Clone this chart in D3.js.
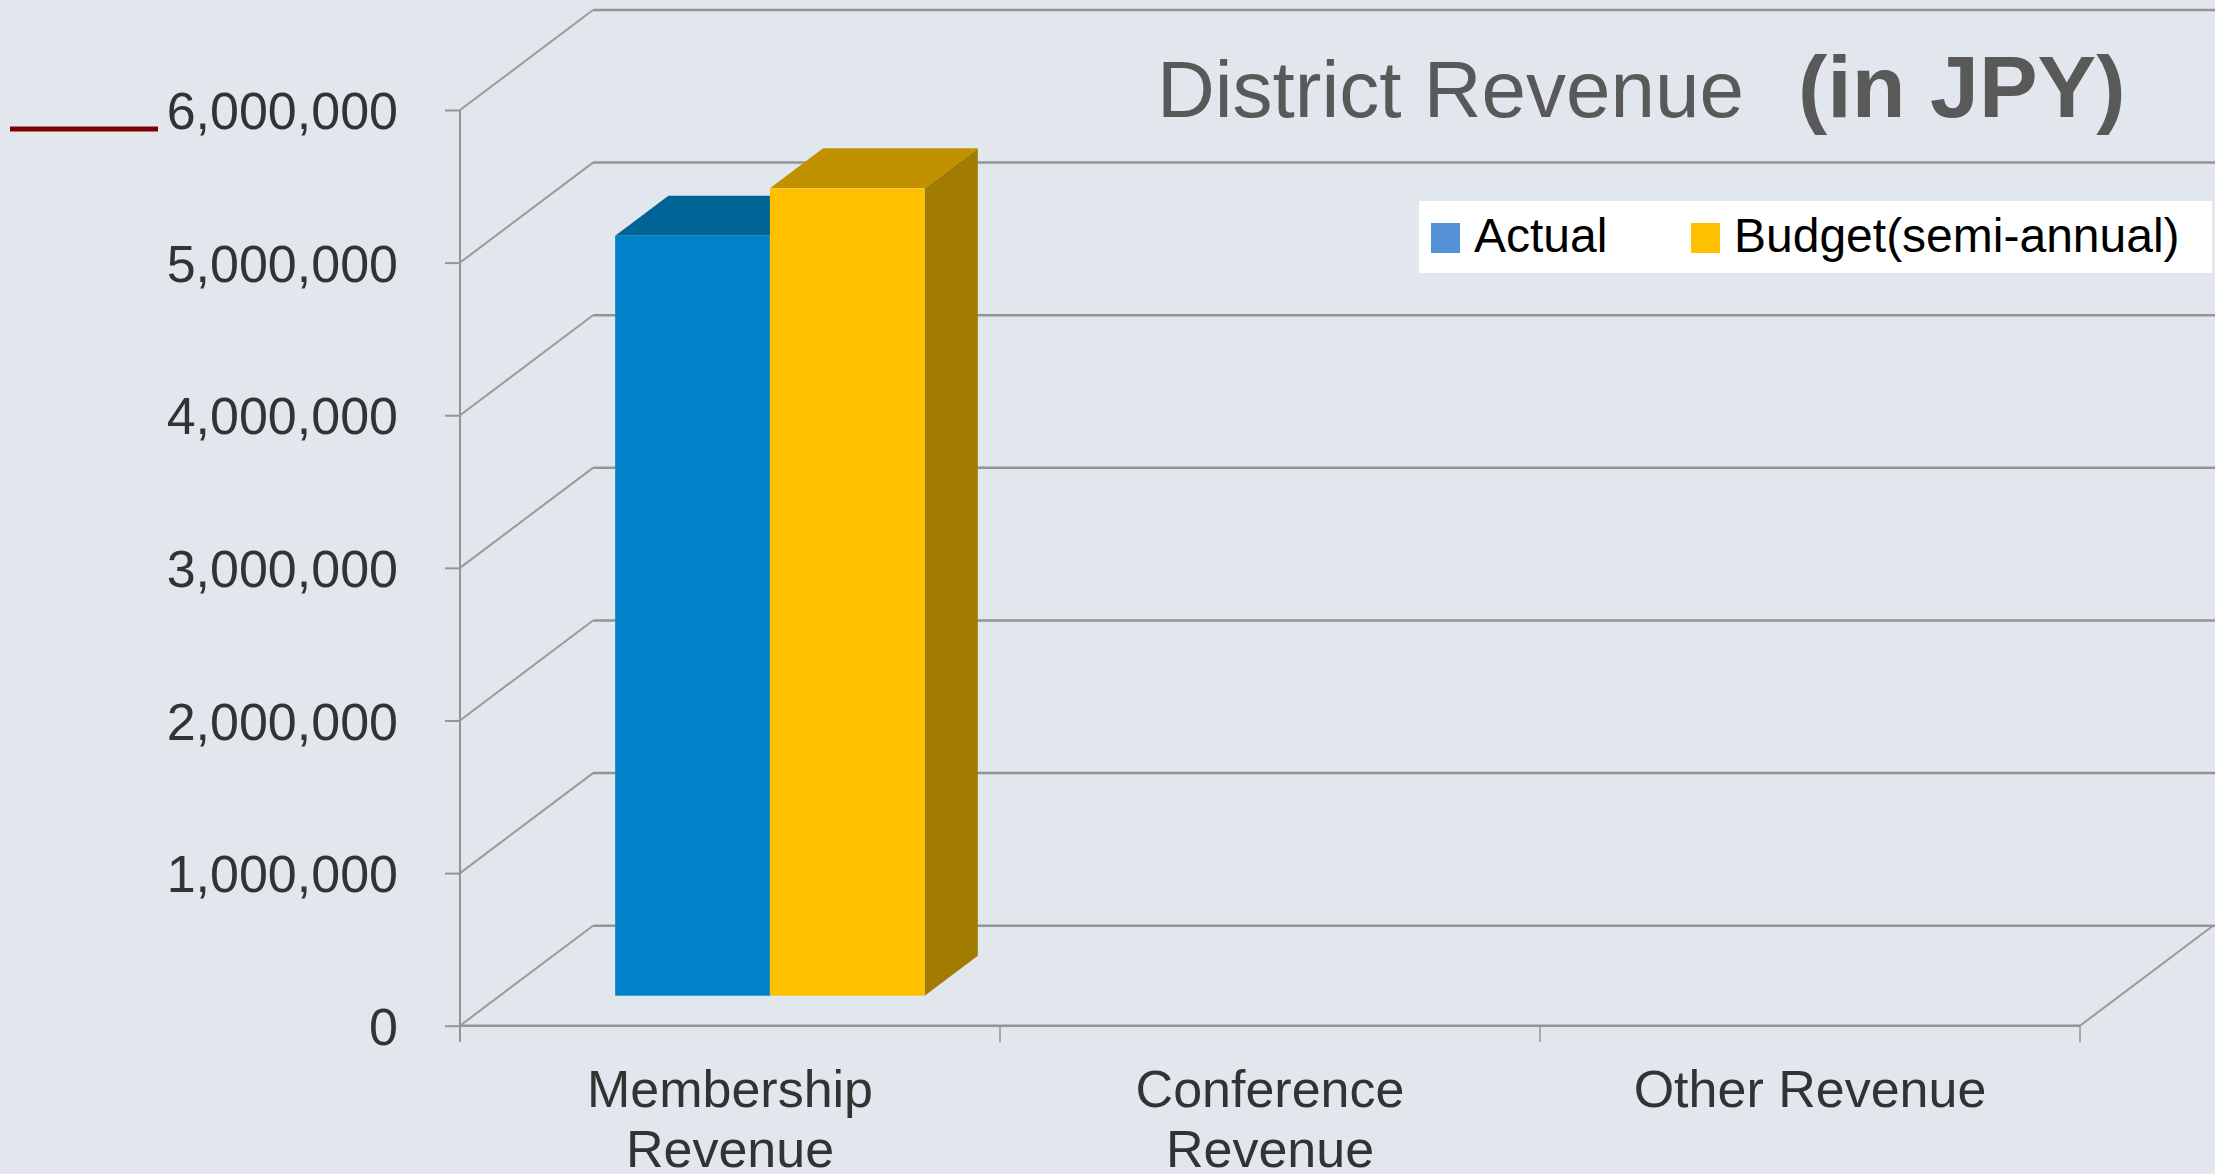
<!DOCTYPE html>
<html>
<head>
<meta charset="utf-8">
<script src="https://cdn.jsdelivr.net/npm/d3@7"></script>
<style>
	body { margin: 0; background: #e2e7ee; }
	#chart { width: 2215px; height: 1174px; }
</style>
</head>
<body>
<div id="chart"></div>
<script>
var width = 2215;
var height = 1174;

// chart data
var categories = ["Membership Revenue", "Conference Revenue", "Other Revenue"];
var seriesNames = ["Actual", "Budget(semi-annual)"];
var actual = [4980000, 0, 0];
var budget = [5290000, 0, 0];
var yTicks = [0, 1000000, 2000000, 3000000, 4000000, 5000000, 6000000];

// depth of the 3d box (full wall depth)
var depthX = 133;
var depthY = -100;

window.onload = start;

function start() {
	var chart = d3.select("#chart")
		.append("svg")
		.attr("width", width)
		.attr("height", height);

	chart.append("rect")
		.attr("width", width)
		.attr("height", height)
		.attr("fill", "#e2e7ee");

	var xScale = d3.scaleBand().domain(categories).range([460, 2080]);
	var inner = d3.scaleBand().domain(seriesNames).range([0, xScale.bandwidth()]).paddingOuter(0.745).paddingInner(0);
	var yScale = d3.scaleLinear().domain([0, 6000000]).range([1025.7, 110]);

	// point on the box, z = depth fraction 0..1
	function px(x, z) { return x + z * depthX; }
	function py(v, z) { return yScale(v) + z * depthY; }

	var grid = chart.append("g").attr("class", "grid");

	// back wall lines
	grid.selectAll("line.back")
		.data(yTicks)
		.enter()
		.append("line")
		.attr("class", "back")
		.attr("x1", px(460, 1))
		.attr("x2", width)
		.attr("y1", function(d) { return py(d, 1); })
		.attr("y2", function(d) { return py(d, 1); })
		.attr("stroke", "#959595")
		.attr("stroke-width", 2.5);

	// side wall diagonals
	grid.selectAll("line.side")
		.data(yTicks)
		.enter()
		.append("line")
		.attr("class", "side")
		.attr("x1", 460)
		.attr("x2", px(460, 1))
		.attr("y1", function(d) { return py(d, 0); })
		.attr("y2", function(d) { return py(d, 1); })
		.attr("stroke", "#9a9a9a")
		.attr("stroke-width", 2);

	// floor right edge
	grid.append("line")
		.attr("x1", 2080)
		.attr("x2", px(2080, 1))
		.attr("y1", py(0, 0))
		.attr("y2", py(0, 1))
		.attr("stroke", "#9a9a9a")
		.attr("stroke-width", 2);

	// y axis
	var yAxis = d3.axisLeft(yScale)
		.tickValues(yTicks)
		.tickSize(15)
		.tickPadding(47)
		.tickFormat(d3.format(","));

	var yG = chart.append("g")
		.attr("transform", "translate(460,0)")
		.call(yAxis);
	yG.select(".domain").remove();
	yG.selectAll(".tick line").attr("stroke", "#959595").attr("stroke-width", 2);
	yG.selectAll(".tick text")
		.attr("fill", "#333333")
		.attr("dy", "0.36em")
		.style("font-family", "'Liberation Sans', Arial, sans-serif")
		.style("font-size", "52px");

	chart.append("line")
		.attr("x1", 460).attr("x2", 460)
		.attr("y1", yScale(6000000)).attr("y2", 1042)
		.attr("stroke", "#959595").attr("stroke-width", 2);

	// x axis (floor front edge) and category ticks
	chart.append("line")
		.attr("x1", 460).attr("x2", 2080)
		.attr("y1", yScale(0)).attr("y2", yScale(0))
		.attr("stroke", "#959595").attr("stroke-width", 2.5);

	var bounds = categories.map(function(c) { return xScale(c); }).concat([2080]);
	chart.selectAll("line.xtick")
		.data(bounds)
		.enter()
		.append("line")
		.attr("class", "xtick")
		.attr("x1", function(d) { return d; })
		.attr("x2", function(d) { return d; })
		.attr("y1", yScale(0))
		.attr("y2", 1042)
		.attr("stroke", "#959595")
		.attr("stroke-width", 1.5);

	// category labels, wrapped like excel does
	var labels = chart.selectAll("text.cat")
		.data(categories)
		.enter()
		.append("text")
		.attr("class", "cat")
		.attr("x", function(d) { return xScale(d) + xScale.bandwidth() / 2; })
		.attr("y", 1107)
		.attr("text-anchor", "middle")
		.attr("fill", "#333333")
		.style("font-family", "'Liberation Sans', Arial, sans-serif")
		.style("font-size", "52px");

	labels.each(function(d) {
		var words = d.split(" ");
		var lines = d.length > 14 ? words : [d];
		var t = d3.select(this);
		lines.forEach(function(l, i) {
			t.append("tspan")
				.attr("x", t.attr("x"))
				.attr("dy", i == 0 ? 0 : 60)
				.text(l);
		});
	});

	// 3d bars
	var series = [
		{name: seriesNames[0], values: actual, front: "#0082ca", top: "#006497", side: "#005a88"},
		{name: seriesNames[1], values: budget, front: "#ffc000", top: "#c19100", side: "#a27c00"}
	];
	var z0 = 0.3, z1 = 0.7;

	series.forEach(function(s) {
		var g = chart.append("g").attr("class", "bars");
		var rows = categories.map(function(c, i) { return {cat: c, v: s.values[i]}; })
			.filter(function(d) { return d.v > 0; });

		rows.forEach(function(d) {
			var x0 = xScale(d.cat) + inner(s.name);
			var x1 = x0 + inner.bandwidth();
			// side face
			g.append("polygon")
				.attr("points", [[px(x1, z0), py(0, z0)], [px(x1, z1), py(0, z1)], [px(x1, z1), py(d.v, z1)], [px(x1, z0), py(d.v, z0)]].join(" "))
				.attr("fill", s.side);
			// top face
			g.append("polygon")
				.attr("points", [[px(x0, z0), py(d.v, z0)], [px(x0, z1), py(d.v, z1)], [px(x1, z1), py(d.v, z1)], [px(x1, z0), py(d.v, z0)]].join(" "))
				.attr("fill", s.top);
			// front face
			g.append("rect")
				.attr("x", px(x0, z0))
				.attr("y", py(d.v, z0))
				.attr("width", x1 - x0)
				.attr("height", py(0, z0) - py(d.v, z0))
				.attr("fill", s.front);
		});
	});

	// title
	var title = chart.append("text")
		.attr("x", 1157)
		.attr("y", 117)
		.attr("fill", "#595959")
		.style("font-family", "'Liberation Sans', Arial, sans-serif");
	title.append("tspan")
		.style("font-size", "80px")
		.text("District Revenue");
	title.append("tspan")
		.attr("x", 1798)
		.style("font-size", "88px")
		.style("font-weight", "bold")
		.text("(in JPY)");

	// legend
	var legend = chart.append("g").attr("class", "legend");
	legend.append("rect")
		.attr("x", 1419).attr("y", 201)
		.attr("width", 793).attr("height", 72)
		.attr("fill", "#ffffff");
	var legendColors = ["#5591d6", "#ffc000"];
	var legendX = [1431, 1691];
	seriesNames.forEach(function(n, i) {
		legend.append("rect")
			.attr("x", legendX[i]).attr("y", 223)
			.attr("width", 29).attr("height", 30)
			.attr("fill", legendColors[i]);
		legend.append("text")
			.attr("x", legendX[i] + 43)
			.attr("y", 252)
			.attr("fill", "#000000")
			.style("font-family", "'Liberation Sans', Arial, sans-serif")
			.style("font-size", "48px")
			.text(n);
	});

	// dark red accent line at top left
	chart.append("line")
		.attr("x1", 10).attr("x2", 158)
		.attr("y1", 129).attr("y2", 129)
		.attr("stroke", "#7f0000")
		.attr("stroke-width", 5);
}
</script>
</body>
</html>
